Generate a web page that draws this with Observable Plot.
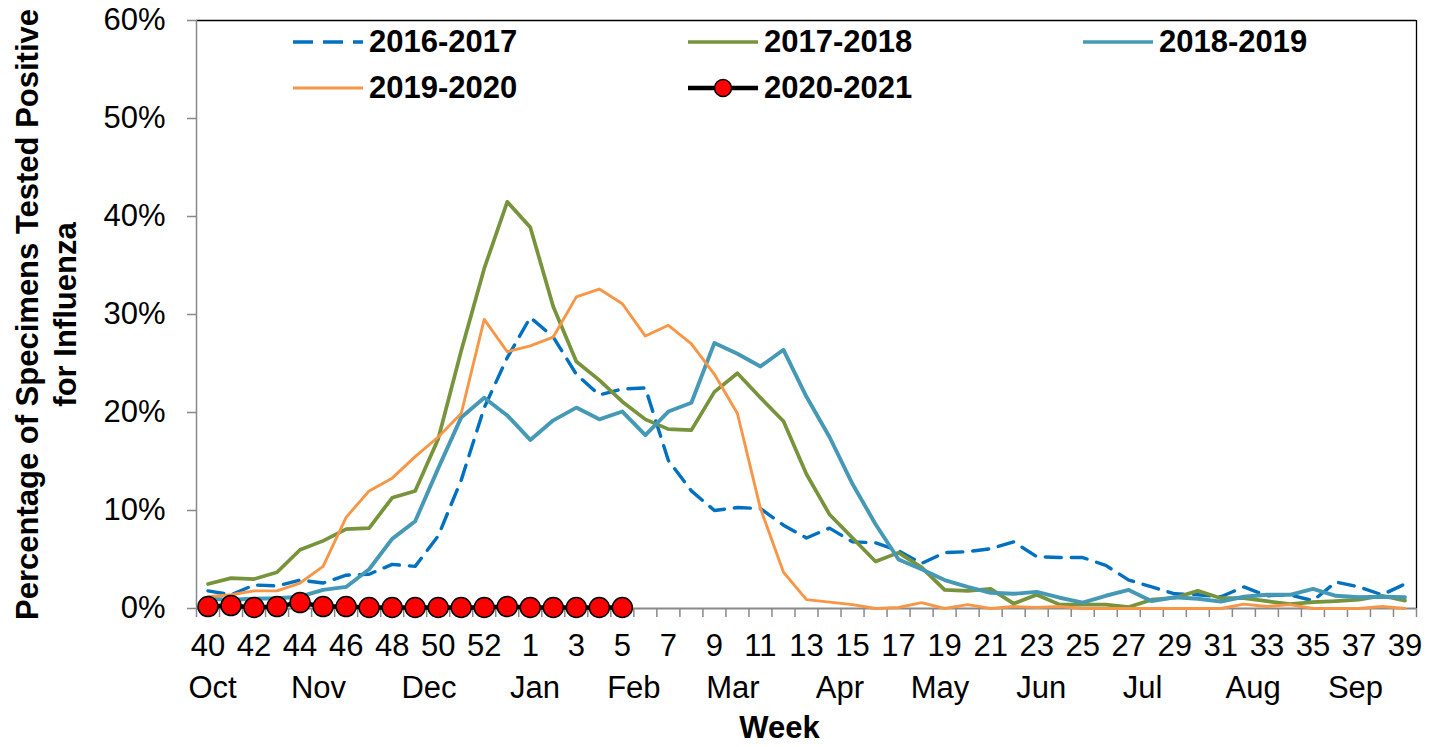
<!DOCTYPE html>
<html>
<head>
<meta charset="utf-8">
<script src="https://cdn.jsdelivr.net/npm/d3@7"></script>
<script src="https://cdn.jsdelivr.net/npm/@observablehq/plot@0.6"></script>
<style>
  html, body { margin: 0; padding: 0; background: #fff; }
  #wrap { position: relative; width: 1439px; height: 747px; font-family: "Liberation Sans", Arial, sans-serif; }
  .leg { position: absolute; display: flex; align-items: center; transform: translateY(-50%); font-weight: bold; font-size: 31px; color: #000; white-space: nowrap; }
  .leg svg { margin-right: 6px; display: block; }
</style>
</head>
<body>
<div id="wrap"></div>
<script>
// ---- data ----
const weeks = [40,41,42,43,44,45,46,47,48,49,50,51,52,53,1,2,3,4,5,6,7,8,9,10,11,12,13,14,15,16,17,18,19,20,21,22,23,24,25,26,27,28,29,30,31,32,33,34,35,36,37,38,39];
const monthLabels = ["Oct","Nov","Dec","Jan","Feb","Mar","Apr","May","Jun","Jul","Aug","Sep"];
const monthPos = [0.2, 4.8, 9.6, 14.2, 18.5, 22.8, 27.45, 31.8, 36.2, 40.6, 45.4, 49.85];
const yTicks = [0,10,20,30,40,50,60];

const s1617 = [1.8,1.4,2.4,2.3,2.9,2.6,3.4,3.5,4.5,4.3, 7.4,13.1,20.5,25.6,29.7,27.7,23.9,21.8,22.4,22.5, 15.1,12.0,10.0,10.3,10.2,8.5,7.2,8.2,6.8,6.7, 5.9,4.6,5.7,5.8,6.1,6.8,5.3,5.2,5.2,4.4, 2.9,2.2,1.5,1.4,1.2,2.2,1.3,1.4,0.8,2.7, 2.2,1.4,2.5];
const s1718 = [2.5,3.1,3.0,3.7,6.0,6.9,8.1,8.2,11.3,12.0, 17.3,26.3,34.7,41.5,38.9,30.8,25.2,23.3,21.1,19.3, 18.3,18.2,22.1,24.0,21.5,19.1,13.7,9.6,7.2,4.8, 5.7,4.2,1.9,1.8,2.0,0.5,1.4,0.4,0.4,0.4, 0.15,0.9,1.1,1.8,1.05,1.05,0.75,0.45,0.65,0.75, 0.9,1.3,0.8];
const s1819 = [1.0,0.9,1.0,1.05,1.2,1.9,2.2,4.0,7.1,8.9, 14.3,19.5,21.5,19.7,17.2,19.2,20.5,19.3,20.1,17.7, 20.1,21.0,27.1,26.0,24.7,26.4,21.6,17.5,12.7,8.6, 5.0,4.0,2.9,2.2,1.6,1.5,1.7,1.1,0.6,1.3, 1.9,0.75,1.15,1.0,0.7,1.2,1.4,1.4,2.0,1.3, 1.15,1.2,1.15];
const s1920 = [1.2,1.4,1.8,1.8,2.6,4.3,9.3,12.0,13.3,15.5, 17.5,19.9,29.5,26.2,26.8,27.7,31.8,32.6,31.1,27.8, 28.9,27.0,23.9,19.9,10.2,3.7,0.9,0.65,0.4,0.0, 0.1,0.6,0.0,0.4,0.0,0.2,0.1,0.2,0.0,0.0, 0.0,0.0,0.0,0.0,0.0,0.45,0.2,0.4,0.0,0.0, 0.0,0.2,0.0];
const s2021 = [0.2,0.3,0.1,0.2,0.6,0.2,0.2,0.1,0.1,0.1,0.1,0.1,0.1,0.2,0.1,0.1,0.1,0.1,0.1];

const seasons = ["2016-2017","2017-2018","2018-2019","2019-2020","2020-2021"];
const colors = ["#0070C0","#77933C","#4599B5","#F79646","#000000"];

// ---- build ----
const toRows = (arr) => arr.map((v, i) => ({i, v}));
const evenIdx = weeks.map((w, i) => i).filter(i => i % 2 === 0);
const boundaries = d3.range(-0.5, weeks.length, 1);
const gray = "#898989";
const months = monthLabels.map((m, k) => ({m, x: monthPos[k]}));

const chart = Plot.plot({
  width: 1439,
  height: 747,
  marginLeft: 196,
  marginRight: 23,
  marginTop: 20,
  marginBottom: 139,
  style: {fontFamily: "'Liberation Sans', Arial, sans-serif", fontSize: "31px", color: "#000", background: "#fff", overflow: "visible"},
  x: {type: "linear", domain: [-0.5, weeks.length - 0.5]},
  y: {domain: [0, 60]},
  marks: [
    // frame: gray axes left/bottom, black top/right
    Plot.ruleY([60], {stroke: "#000", strokeWidth: 1.3}),
    Plot.ruleX([weeks.length - 0.5], {stroke: "#000", strokeWidth: 1.3}),
    Plot.ruleX([-0.5], {stroke: gray, strokeWidth: 1.5}),
    Plot.ruleY([0], {stroke: gray, strokeWidth: 2}),
    // y axis
    Plot.axisY(yTicks, {tickSize: 9, tickPadding: 22, tickFormat: d => d + "%", stroke: gray, fill: "#000", fontSize: 31, label: null, strokeWidth: 1.5}),
    // x boundary ticks
    Plot.axisX(boundaries, {tickSize: 9, tickFormat: () => "", stroke: gray, strokeWidth: 1.5, label: null}),
    // x labels
    Plot.axisX(evenIdx, {tickSize: 0, tickPadding: 25, tickFormat: i => String(weeks[i]), fill: "#000", fontSize: 31, label: null}),
    Plot.text(months, {x: "x", text: "m", frameAnchor: "bottom", dy: 67, lineAnchor: "top", fontSize: 31, fill: "#000"}),
    Plot.text(["Week"], {text: d => d, frameAnchor: "bottom", dy: 107, dx: -27, lineAnchor: "top", fontSize: 31, fontWeight: "bold", fill: "#000"}),
    Plot.text(["Percentage of Specimens Tested Positive\nfor Influenza"], {text: d => d, frameAnchor: "left", textAnchor: "middle", dx: -152, rotate: -90, lineAnchor: "middle", lineHeight: 1.22, fontSize: 31, fontWeight: "bold", fill: "#000"}),
    // series
    Plot.line(toRows(s1617), {x: "i", y: "v", stroke: colors[0], strokeWidth: 3.4, strokeDasharray: "16,10", strokeLinejoin: "round"}),
    Plot.line(toRows(s1718), {x: "i", y: "v", stroke: colors[1], strokeWidth: 3.7, strokeLinejoin: "round"}),
    Plot.line(toRows(s1819), {x: "i", y: "v", stroke: colors[2], strokeWidth: 3.9, strokeLinejoin: "round"}),
    Plot.line(toRows(s1920), {x: "i", y: "v", stroke: colors[3], strokeWidth: 2.9, strokeLinejoin: "round"}),
    Plot.line(toRows(s2021), {x: "i", y: "v", stroke: colors[4], strokeWidth: 4.5}),
    Plot.dot(toRows(s2021), {x: "i", y: "v", r: 10, fill: "#FF0000", stroke: "#000", strokeWidth: 1.5})
  ]
});

const wrap = document.getElementById("wrap");
wrap.appendChild(chart);

// legend overlay inside plot area
const legendItems = [
  {k: 0, left: 293, top: 42},
  {k: 1, left: 688, top: 42},
  {k: 2, left: 1083, top: 42},
  {k: 3, left: 293, top: 88},
  {k: 4, left: 688, top: 88}
];
for (const it of legendItems) {
  const div = document.createElement("div");
  div.className = "leg";
  div.style.left = it.left + "px";
  div.style.top = it.top + "px";
  const c = colors[it.k];
  let sw;
  if (it.k === 0) sw = `<line x1="0" y1="10" x2="70" y2="10" stroke="${c}" stroke-width="3.3" stroke-dasharray="20,10"/>`;
  else if (it.k === 4) sw = `<line x1="0" y1="10" x2="70" y2="10" stroke="#000" stroke-width="4.5"/><circle cx="35" cy="10" r="8.5" fill="#FF0000" stroke="#000" stroke-width="1.5"/>`;
  else sw = `<line x1="0" y1="10" x2="70" y2="10" stroke="${c}" stroke-width="${it.k===3?2.8:3.6}"/>`;
  div.innerHTML = `<svg width="70" height="20">${sw}</svg><span>${seasons[it.k]}</span>`;
  wrap.appendChild(div);
}
</script>
</body>
</html>
